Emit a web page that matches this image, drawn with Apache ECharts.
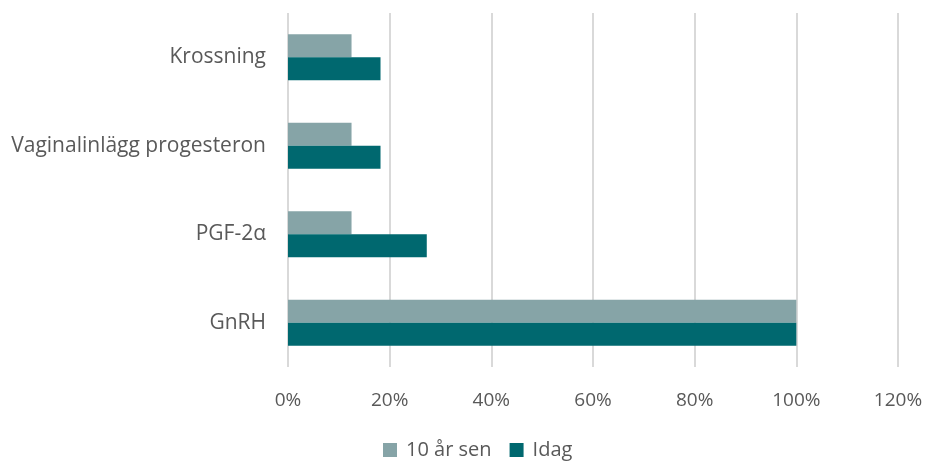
<!DOCTYPE html>
<html>
<head>
<meta charset="utf-8">
<script src="https://cdn.jsdelivr.net/npm/echarts@6/dist/echarts.min.js"></script>
<style>
  html, body { margin: 0; padding: 0; background: #fff; }
  #chart { width: 927px; height: 462px; }
</style>
</head>
<body>
<div id="chart"></div>
<script>
// Categories listed bottom to top (category axis on y starts at the bottom)
const categories = ['GnRH', 'PGF-2α', 'Vaginalinlägg progesteron', 'Krossning'];
const seriesNames = ['10 år sen', 'Idag'];
const tenYearsAgo = [100, 12.5, 12.5, 12.5];
const today = [100, 27.3, 18.2, 18.2];
const xTicks = [0, 20, 40, 60, 80, 100, 120];

const fontFamily = '"Open Sans", sans-serif';
const textColor = '#595959';

const chart = echarts.init(document.getElementById('chart'), null, { renderer: 'canvas' });
chart.setOption({
  animation: false,
  grid: { left: 288, right: 29, top: 13, bottom: 95, containLabel: false },
  legend: {
    data: seriesNames,
    bottom: -3,
    left: 378,
    itemWidth: 14,
    itemHeight: 14,
    itemGap: 18,
    icon: 'rect',
    textStyle: { color: textColor, fontSize: 20, fontFamily: fontFamily, padding: [0, 0, 0, 4] }
  },
  xAxis: {
    type: 'value',
    min: xTicks[0],
    max: xTicks[xTicks.length - 1],
    interval: 20,
    axisLine: { show: false },
    axisTick: { show: false },
    splitLine: { show: true, lineStyle: { color: '#D9D9D9', width: 2 } },
    axisLabel: {
      color: textColor,
      fontSize: 19,
      fontFamily: fontFamily,
      margin: 24,
      formatter: v => v + '%'
    }
  },
  yAxis: {
    type: 'category',
    data: categories,
    axisLine: { show: false },
    axisTick: { show: false },
    splitLine: { show: false },
    axisLabel: {
      color: textColor,
      fontSize: 21,
      fontFamily: fontFamily,
      margin: 22
    }
  },
  series: [
    {
      name: seriesNames[0],
      type: 'bar',
      data: tenYearsAgo,
      itemStyle: { color: '#86A4A7' },
      barGap: '0%',
      barCategoryGap: '48%'
    },
    {
      name: seriesNames[1],
      type: 'bar',
      data: today,
      itemStyle: { color: '#00686F' },
      barGap: '0%',
      barCategoryGap: '48%'
    }
  ]
});
</script>
</body>
</html>
